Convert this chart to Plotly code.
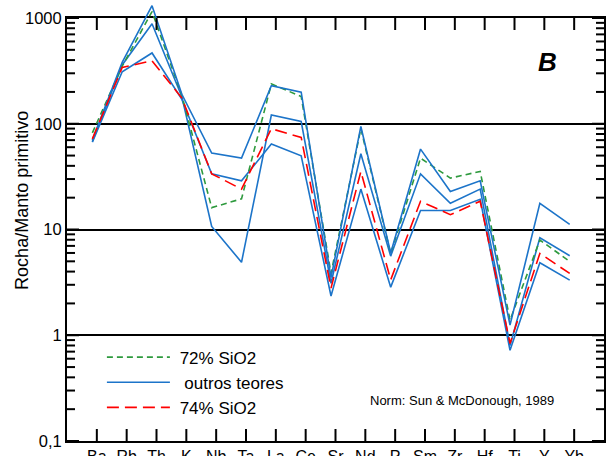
import math
import plotly.graph_objects as go

elements = ["Ba", "Rb", "Th", "K", "Nb", "Ta", "La", "Ce", "Sr", "Nd", "P",
            "Sm", "Zr", "Hf", "Ti", "Y", "Yb"]

sio2_72 = [82, 350, 1150, 185, 16.1, 19.5, 238, 181, 3.85, 90, 5.9,
           47.3, 30.6, 35.4, 1.39, 7.94, 5.0]
sio2_74 = [72, 340, 394, 175, 33.6, 24.1, 89.7, 74.2, 2.79, 35.4, 3.34,
           18.5, 13.8, 18.5, 0.836, 5.94, 3.84]
outros_1 = [70, 380, 1306, 190, 52.8, 47.3, 229, 199, 3.5, 94.3, 6.0,
            57.6, 22.9, 28.9, 1.25, 17.7, 11.2]
outros_2 = [68, 360, 883, 180, 10.7, 4.9, 121, 105, 3.1, 52, 5.6,
            33.6, 17.7, 24.1, 0.8, 8.35, 5.65]
outros_3 = [67, 310, 467, 170, 33.6, 28.9, 64.3, 49.8, 2.35, 24.1, 2.85,
            15.1, 15.1, 19.3, 0.72, 4.85, 3.32]

ytick_vals = [0.1, 1, 10, 100, 1000]
ytick_text = ["0,1", "1", "10", "100", "1000"]
minor_vals = [m * 10 ** e for e in range(-1, 3) for m in range(2, 10)]

GREEN = "#2e9a3e"
BLUE = "#1c74c9"
RED = "#ff0000"
FONT = "Liberation Sans, Arial, sans-serif"

# plot-area geometry (pixels)
W_AREA = 537.0
H_AREA = 437.0
H_FRAME = 423.0
DECADE = H_FRAME / 4.0
frame_top = H_FRAME / H_AREA
data_top_log = -1 + H_AREA / DECADE

idx = list(range(len(elements)))
XR = [-1, 17]           # category tick axis
X2R = [-0.85, 17.15]    # data axis (points sit slightly left of the ticks)
YR = [-1, 3]
PX_PER_X = W_AREA / (XR[1] - XR[0])
MAJOR_LEN = 12
MINOR_LEN = 8

def to_x2(v):
    return X2R[0] + (v - XR[0]) * (X2R[1] - X2R[0]) / (XR[1] - XR[0])

# tick marks pointing into the frame, built from the tick value lists
tx, ty = [], []
for v in idx:
    xv = to_x2(v)
    for base, sgn in [(YR[0], 1), (YR[1], -1)]:
        tx += [xv, xv, None]
        ty += [10 ** base, 10 ** (base + sgn * MAJOR_LEN / DECADE), None]
for vals, ln in [(ytick_vals, MAJOR_LEN), (minor_vals, MINOR_LEN)]:
    for v in vals:
        for base, sgn in [(X2R[0], 1), (X2R[1], -1)]:
            tx += [base, base + sgn * ln / PX_PER_X, None]
            ty += [v, v, None]

fig = go.Figure()
common = dict(mode="lines", xaxis="x2", yaxis="y2")
fig.add_trace(go.Scatter(x=idx, y=outros_2, name="outros teores",
                         line=dict(color=BLUE, width=1.6), showlegend=False, **common))
fig.add_trace(go.Scatter(x=idx, y=outros_3, name="outros teores",
                         line=dict(color=BLUE, width=1.6), showlegend=False, **common))
fig.add_trace(go.Scatter(x=idx, y=sio2_72, name="\u00a072% SiO2",
                         line=dict(color=GREEN, width=1.6, dash="6px,4px"),
                         legendrank=1, **common))
fig.add_trace(go.Scatter(x=idx, y=outros_1, name="\u00a0\u00a0outros teores",
                         line=dict(color=BLUE, width=1.6), legendrank=2, **common))
fig.add_trace(go.Scatter(x=idx, y=sio2_74, name="\u00a074% SiO2",
                         line=dict(color=RED, width=1.6, dash="12px,6px"),
                         legendrank=3, **common))
fig.add_trace(go.Scatter(x=tx, y=ty, mode="lines", xaxis="x2", yaxis="y2",
                         line=dict(color="black", width=2), showlegend=False,
                         hoverinfo="skip", connectgaps=False))
# empty helper trace so the framed axes are drawn
fig.add_trace(go.Scatter(x=[], y=[], xaxis="x", yaxis="y", showlegend=False,
                         hoverinfo="skip"))

fig.update_layout(
    template="none",
    width=613, height=456,
    margin=dict(l=67, r=9, t=4, b=15, autoexpand=False),
    paper_bgcolor="white", plot_bgcolor="rgba(0,0,0,0)",
    font=dict(family=FONT, color="black", size=16),
    showlegend=True,
    legend=dict(x=0.065, y=0.232, xanchor="left", yanchor="top",
                bgcolor="rgba(0,0,0,0)", font=dict(size=17, family=FONT),
                itemwidth=63, traceorder="normal", tracegroupgap=0),
    xaxis=dict(anchor="y", range=XR,
               tickmode="array", tickvals=idx, ticktext=elements, ticks="",
               showline=True, linewidth=2, linecolor="black", mirror=True,
               showgrid=False, zeroline=False, automargin=False,
               tickfont=dict(size=16, family=FONT, color="black")),
    yaxis=dict(anchor="x", type="log", range=YR, domain=[0, frame_top],
               automargin=False,
               tickmode="array", tickvals=ytick_vals, ticktext=ytick_text, ticks="",
               showline=True, linewidth=2, linecolor="black", mirror=True,
               showgrid=True, gridcolor="black", gridwidth=2, zeroline=False,
               tickfont=dict(size=16.5, family=FONT, color="black")),
    xaxis2=dict(anchor="y2", range=X2R, visible=False,
                showgrid=False, zeroline=False, automargin=False),
    yaxis2=dict(anchor="x2", type="log", range=[-1, data_top_log], domain=[0, 1],
                visible=False, showgrid=False, zeroline=False, automargin=False),
    annotations=[
        dict(text="Rocha/Manto primitivo", xref="paper", yref="paper",
             x=-0.084, y=0.5515, xanchor="center", yanchor="middle",
             textangle=-90, showarrow=False,
             font=dict(size=18, family=FONT, color="black")),
        dict(text="<b><i>B</i></b>", xref="paper", yref="paper",
             x=0.895, y=0.867, xanchor="center", yanchor="middle", showarrow=False,
             font=dict(size=26, family=FONT, color="black")),
        dict(text="Norm: Sun & McDonough, 1989", xref="paper", yref="paper",
             x=0.735, y=0.0938, xanchor="center", yanchor="middle", showarrow=False,
             font=dict(size=13, family=FONT, color="black")),
    ],
)

fig.write_html("out.html")
